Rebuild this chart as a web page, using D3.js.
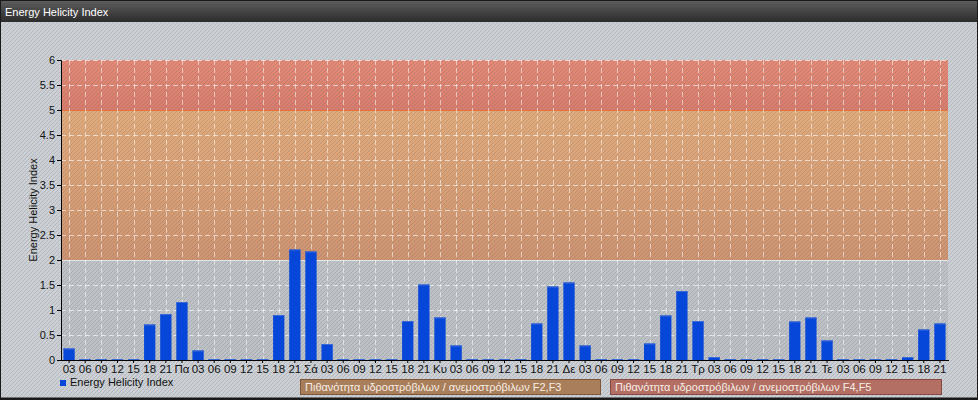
<!DOCTYPE html>
<html>
<head>
<meta charset="utf-8">
<script src="https://cdn.jsdelivr.net/npm/d3@7"></script>
<style>
  html, body { margin: 0; padding: 0; background: #cfd3d7; }
  svg { display: block; font-family: "Liberation Sans", Arial, sans-serif; }
</style>
</head>
<body>
<svg id="chart" width="978" height="400"></svg>
<script>
const chartTitle = "Energy Helicity Index";
const yAxisTitle = "Energy Helicity Index";
const seriesName = "Energy Helicity Index";

const categories = [
  "03","06","09","12","15","18","21",
  "Πα","03","06","09","12","15","18","21",
  "Σά","03","06","09","12","15","18","21",
  "Κυ","03","06","09","12","15","18","21",
  "Δε","03","06","09","12","15","18","21",
  "Τρ","03","06","09","12","15","18","21",
  "Τε","03","06","09","12","15","18","21"
];

const values = [
  0.23, 0.02, 0.02, 0.02, 0.02, 0.71, 0.92,
  1.16, 0.19, 0.02, 0.02, 0.02, 0.02, 0.90, 2.21,
  2.17, 0.32, 0.02, 0.02, 0.02, 0.02, 0.78, 1.51,
  0.85, 0.29, 0.02, 0.02, 0.02, 0.02, 0.73, 1.47,
  1.55, 0.29, 0.02, 0.02, 0.02, 0.33, 0.89, 1.38,
  0.78, 0.06, 0.02, 0.02, 0.02, 0.02, 0.77, 0.85,
  0.39, 0.02, 0.02, 0.02, 0.02, 0.06, 0.61, 0.73
];

const yTicks = [0, 0.5, 1, 1.5, 2, 2.5, 3, 3.5, 4, 4.5, 5, 5.5, 6];

const bandRanges = [
  { from: 0, to: 2, name: "low" },
  { from: 2, to: 5, name: "F2,F3" },
  { from: 5, to: 6, name: "F4,F5" }
];
const bandLabels = [
  "Πιθανότητα υδροστρόβιλων / ανεμοστρόβιλων F2,F3",
  "Πιθανότητα υδροστρόβιλων / ανεμοστρόβιλων F4,F5"
];

const W = 978, H = 400;
const plot = { left: 61, right: 948, top: 60, bottom: 360 };

const svg = d3.select("#chart");
const defs = svg.append("defs");

// stripe pattern
const pat = defs.append("pattern")
  .attr("id", "stripes").attr("patternUnits", "userSpaceOnUse")
  .attr("width", 4).attr("height", 4);
pat.append("path").attr("d", "M-1,1 l2,-2 M0,4 l4,-4 M3,5 l2,-2")
  .attr("stroke", "rgba(90,100,115,0.22)").attr("stroke-width", 1);

// title gradient
const tg = defs.append("linearGradient").attr("id", "titleGrad")
  .attr("x1", 0).attr("y1", 0).attr("x2", 0).attr("y2", 1);
tg.append("stop").attr("offset", "0%").attr("stop-color", "#5e5e5e");
tg.append("stop").attr("offset", "100%").attr("stop-color", "#2c2c2c");

const bandFill = {
  low: ["#bfc2c6", "#bdc0c4"],
  "F2,F3": ["#e2ab7b", "#cf9470"],
  "F4,F5": ["#e48a76", "#d97c6c"]
};
bandRanges.forEach((b, i) => {
  const g = defs.append("linearGradient").attr("id", "band" + i)
    .attr("x1", 0).attr("y1", 0).attr("x2", 0).attr("y2", 1);
  g.append("stop").attr("offset", "0%").attr("stop-color", bandFill[b.name][0]);
  g.append("stop").attr("offset", "100%").attr("stop-color", bandFill[b.name][1]);
});

// background
svg.append("rect").attr("width", W).attr("height", H).attr("fill", "#ccd0d4");

const x = d3.scaleBand()
  .domain(d3.range(categories.length))
  .range([plot.left, plot.right])
  .paddingInner(0.3).paddingOuter(0.15);
const y = d3.scaleLinear().domain([0, 6]).range([plot.bottom, plot.top]);

// plot bands
svg.append("g").selectAll("rect").data(bandRanges).join("rect")
  .attr("x", plot.left).attr("width", plot.right - plot.left)
  .attr("y", d => y(d.to)).attr("height", d => y(d.from) - y(d.to))
  .attr("fill", (d, i) => `url(#band${i})`);

// stripes overlay everywhere (below title)
svg.append("rect").attr("x", 0).attr("y", 22).attr("width", W).attr("height", H - 22)
  .attr("fill", "url(#stripes)");

// grid
const grid = svg.append("g");
grid.selectAll("line.h").data(yTicks.filter(v => v > 0)).join("line")
  .attr("x1", plot.left).attr("x2", plot.right)
  .attr("y1", d => y(d) + 0.5).attr("y2", d => y(d) + 0.5)
  .attr("stroke", d => d === 5 ? "#e8703c" : "rgba(255,255,255,0.6)")
  .attr("stroke-dasharray", d => (d === 5 || d === 2) ? null : "5,3")
  .attr("stroke-width", 1);
grid.selectAll("line.v").data(d3.range(categories.length)).join("line")
  .attr("x1", d => Math.round(x(d) + x.bandwidth() / 2) + 0.5)
  .attr("x2", d => Math.round(x(d) + x.bandwidth() / 2) + 0.5)
  .attr("y1", plot.top).attr("y2", plot.bottom)
  .attr("stroke", "rgba(255,255,255,0.55)")
  .attr("stroke-dasharray", "5,3");

// bars
svg.append("g").selectAll("rect").data(values).join("rect")
  .attr("x", (d, i) => x(i))
  .attr("width", x.bandwidth())
  .attr("y", d => y(d))
  .attr("height", d => y(0) - y(d))
  .attr("fill", "#0646d8");
svg.append("g").selectAll("line").data(values).join("line")
  .attr("x1", (d, i) => x(i)).attr("x2", (d, i) => x(i) + x.bandwidth())
  .attr("y1", d => y(d) + 0.5).attr("y2", d => y(d) + 0.5)
  .attr("stroke", "#3a6ad6").attr("stroke-width", 1);

// axes
const yAxis = svg.append("g").attr("transform", `translate(${plot.left},0)`)
  .call(d3.axisLeft(y).tickValues(yTicks).tickSize(4).tickPadding(2)
    .tickFormat(d => d3.format("")(d)));
yAxis.select(".domain").attr("stroke", "#000");
yAxis.selectAll("text").attr("font-size", 11).attr("fill", "#111")
  .attr("font-family", '"Liberation Sans", Arial, sans-serif');

const xAxis = svg.append("g").attr("transform", `translate(0,${plot.bottom})`)
  .call(d3.axisBottom(x).tickSize(3).tickPadding(2).tickFormat(i => categories[i]));
xAxis.select(".domain").attr("d", `M${plot.left},0.5H${plot.right + 1}`).attr("stroke", "#000");
xAxis.selectAll("text").attr("font-size", 11.5).attr("fill", "#111")
  .attr("font-family", '"Liberation Sans", Arial, sans-serif');

// y axis title
svg.append("text")
  .attr("transform", `translate(37,${(plot.top + plot.bottom) / 2}) rotate(-90)`)
  .attr("text-anchor", "middle").attr("font-size", 11).attr("fill", "#111")
  .text(yAxisTitle);

// legend
svg.append("rect").attr("x", 60).attr("y", 380).attr("width", 6).attr("height", 6)
  .attr("fill", "#0646d8");
svg.append("text").attr("x", 70).attr("y", 385.5).attr("font-size", 11)
  .attr("fill", "#111").text(seriesName);

const boxes = [
  { x: 300, w: 300, fill: "#a97e5b", stroke: "#7e5638", text: bandLabels[0] },
  { x: 610, w: 331, fill: "#b36f64", stroke: "#874a40", text: bandLabels[1] }
];
boxes.forEach(b => {
  svg.append("rect").attr("x", b.x + 0.5).attr("y", 379.5).attr("width", b.w).attr("height", 15)
    .attr("fill", b.fill).attr("stroke", b.stroke);
  svg.append("text").attr("x", b.x + 5).attr("y", 391).attr("font-size", 11)
    .attr("fill", "#f6eee6").text(b.text);
});

// title bar
svg.append("rect").attr("x", 0).attr("y", 0).attr("width", W).attr("height", 22)
  .attr("fill", "url(#titleGrad)");
svg.append("text").attr("x", 5).attr("y", 15.5).attr("font-size", 11)
  .attr("fill", "#fff").text(chartTitle);

// outer frame
svg.append("rect").attr("x", 0.5).attr("y", 0.5).attr("width", W - 1).attr("height", H - 1)
  .attr("fill", "none").attr("stroke", "#1a1a1a").attr("stroke-width", 1);
svg.append("line").attr("x1", 0).attr("x2", W).attr("y1", 398.5).attr("y2", 398.5)
  .attr("stroke", "#1a1a1a").attr("stroke-width", 2);
</script>
</body>
</html>
